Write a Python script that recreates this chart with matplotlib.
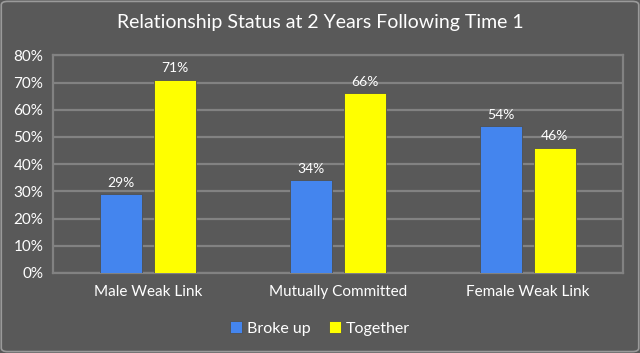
import numpy as np
import matplotlib.pyplot as plt
from matplotlib.patches import FancyBboxPatch

plt.rcParams['font.family'] = ['Lato', 'DejaVu Sans']

categories = ["Male Weak Link", "Mutually Committed", "Female Weak Link"]
broke_up = [29, 34, 54]
together = [71, 66, 46]
y_ticks = [0, 10, 20, 30, 40, 50, 60, 70, 80]

bg = "#595959"
grid_col = "#828282"
blue = "#4485EE"
yellow = "#FFFF00"


def main():
    fig = plt.figure(figsize=(6.4, 3.53), dpi=100)
    fig.patch.set_facecolor(bg)
    # light outer border
    fig.patches.append(FancyBboxPatch((0.002, 0.004), 0.996, 0.992,
                                      boxstyle="round,pad=0,rounding_size=0.01",
                                      transform=fig.transFigure, facecolor="none",
                                      edgecolor="#9a9a9a", linewidth=1.2))

    ax = fig.add_axes([0.083, 0.227, 0.890, 0.616])
    ax.set_facecolor(bg)

    x = np.arange(len(categories))
    w = 0.221
    off = 0.142
    b1 = ax.bar(x - off, broke_up, w, color=blue, edgecolor="#505050", linewidth=0.6,
                label="Broke up", zorder=3)
    b2 = ax.bar(x + off, together, w, color=yellow, edgecolor="#505050", linewidth=0.6,
                label="Together", zorder=3)

    for bars, vals in ((b1, broke_up), (b2, together)):
        for rect, v in zip(bars, vals):
            ax.text(rect.get_x() + rect.get_width() / 2, v + 2.0, f"{v}%",
                    ha="center", va="bottom", color="white", fontsize=10)

    ax.set_xlim(-0.5, len(categories) - 0.5)
    ax.set_ylim(0, 80)
    ax.set_yticks(y_ticks)
    ax.set_yticklabels([f"{t}%" for t in y_ticks])
    ax.set_xticks(x)
    ax.set_xticklabels(categories)
    ax.tick_params(colors="white", labelsize=11, length=0)
    ax.tick_params(axis="x", pad=9)
    ax.tick_params(axis="y", pad=7)

    ax.yaxis.grid(True, color=grid_col, linewidth=1.6, zorder=0)
    for s in ax.spines.values():
        s.set_color(grid_col)
        s.set_linewidth(1.6)

    fig.suptitle("Relationship Status at 2 Years Following Time 1", color="white",
                 fontsize=14, y=0.96)

    leg = fig.legend(loc="center", bbox_to_anchor=(0.5, 0.07), ncol=2, frameon=False,
                     fontsize=11.5, handlelength=0.75, handleheight=0.75,
                     handletextpad=0.35, columnspacing=1.1)
    for t in leg.get_texts():
        t.set_color("white")

    fig.savefig("out.png", dpi=100, facecolor=bg)


if __name__ == "__main__":
    main()
